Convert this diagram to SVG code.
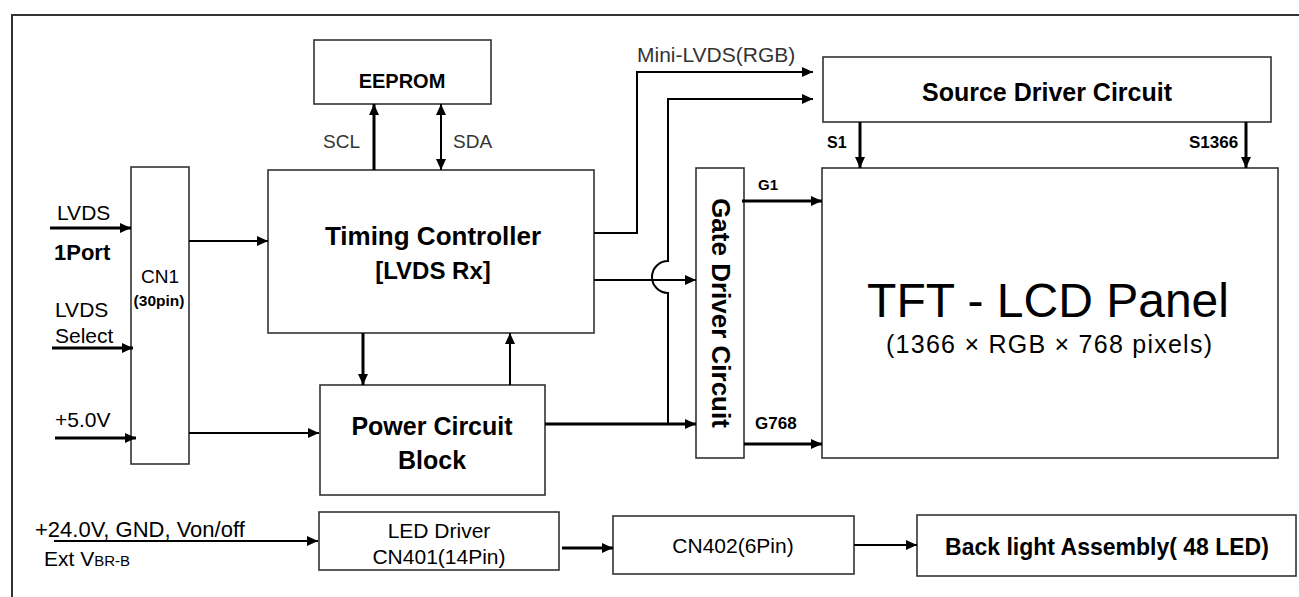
<svg xmlns="http://www.w3.org/2000/svg" width="1299" height="597" viewBox="0 0 1299 597">
<style>
text{font-family:"Liberation Sans",Arial,sans-serif;fill:#000}
.b{font-weight:bold}
.box{fill:#fff;stroke:#333;stroke-width:1.6}
.w{fill:none;stroke:#000;stroke-width:2}
.t{fill:none;stroke:#000;stroke-width:3}
.g{fill:#333}
</style>
<defs>
<marker id="ah" viewBox="0 0 11 10" refX="11" refY="5" markerWidth="11" markerHeight="10" markerUnits="userSpaceOnUse" orient="auto-start-reverse">
<path d="M0,0 L11,5 L0,10 z" fill="#000"/>
</marker>
</defs>
<rect width="1299" height="597" fill="#fff"/>
<g id="frame">
<path d="M12,597 V15 H1299" fill="none" stroke="#333" stroke-width="2"/>
</g>

<g id="eeprom">
<rect class="box" x="314" y="40" width="177" height="64"/>
<text class="b" x="402" y="88" font-size="20" text-anchor="middle">EEPROM</text>
</g>
<g id="timing">
<rect class="box" x="268" y="170" width="326" height="163" stroke-width="2"/>
<text class="b" x="433" y="245" font-size="26" text-anchor="middle">Timing Controller</text>
<text class="b" x="433" y="279" font-size="24" text-anchor="middle">[LVDS Rx]</text>
</g>
<g id="cn1">
<rect class="box" x="131" y="167" width="58" height="297"/>
<text x="160" y="283" font-size="19" text-anchor="middle">CN1</text>
<text class="b" x="159" y="306" font-size="15.5" text-anchor="middle">(30pin)</text>
</g>
<g id="power">
<rect class="box" x="320" y="385" width="225" height="110"/>
<text class="b" x="432" y="435" font-size="25" text-anchor="middle">Power Circuit</text>
<text class="b" x="432" y="469" font-size="25" text-anchor="middle">Block</text>
</g>
<g id="gate">
<rect class="box" x="696" y="168" width="48" height="290" stroke="#000" stroke-width="2.5"/>
<text class="b" font-size="26" text-anchor="middle" transform="translate(712,313) rotate(90)">Gate Driver Circuit</text>
</g>
<g id="source">
<rect class="box" x="823" y="57" width="448" height="65"/>
<text class="b" x="1047" y="101" font-size="25" text-anchor="middle">Source Driver Circuit</text>
</g>
<g id="panel">
<rect class="box" x="822" y="168" width="456" height="290"/>
<text x="1048" y="317" font-size="48" text-anchor="middle">TFT - LCD Panel</text>
<text x="1049" y="353" font-size="25" text-anchor="middle" textLength="326" lengthAdjust="spacing">(1366 × RGB × 768 pixels)</text>
</g>
<g id="led-driver">
<rect class="box" x="319" y="512" width="240" height="58"/>
<text x="439" y="538" font-size="21" text-anchor="middle">LED Driver</text>
<text x="439" y="564" font-size="21" text-anchor="middle">CN401(14Pin)</text>
</g>
<g id="cn402">
<rect class="box" x="613" y="516" width="241" height="58"/>
<text x="733" y="553" font-size="21" text-anchor="middle">CN402(6Pin)</text>
</g>
<g id="backlight">
<rect class="box" x="917" y="515" width="379" height="61"/>
<text class="b" x="1107" y="555" font-size="23" text-anchor="middle">Back light Assembly( 48 LED)</text>
</g>

<g id="labels">
<text x="57" y="220" font-size="21">LVDS</text>
<text class="b" x="54" y="260" font-size="22">1Port</text>
<text x="55" y="317" font-size="21">LVDS</text>
<text x="55" y="343" font-size="21">Select</text>
<text x="55" y="427" font-size="21">+5.0V</text>
<text class="g" x="323" y="148" font-size="19">SCL</text>
<text class="g" x="453" y="148" font-size="19">SDA</text>
<text class="g" x="637" y="62" font-size="21">Mini-LVDS(RGB)</text>
<text class="b" x="758" y="190" font-size="15">G1</text>
<text class="b" x="755" y="429" font-size="17">G768</text>
<text class="b" x="827" y="148" font-size="16">S1</text>
<text class="b" x="1189" y="148" font-size="17">S1366</text>
<text x="35" y="537" font-size="22">+24.0V, GND, Von/off</text>
<text x="44" y="566" font-size="21">Ext V<tspan font-size="15">BR-B</tspan></text>
</g>

<g id="connectors">
<line class="t" x1="50" y1="228" x2="131" y2="228" marker-end="url(#ah)"/>
<line class="t" x1="52" y1="348" x2="133" y2="348" marker-end="url(#ah)"/>
<line class="t" x1="55" y1="438" x2="136" y2="438" marker-end="url(#ah)"/>
<line class="w" x1="189" y1="241" x2="268" y2="241" marker-end="url(#ah)"/>
<line class="w" x1="189" y1="433" x2="319" y2="433" marker-end="url(#ah)"/>
<line class="t" x1="374" y1="170" x2="374" y2="104" marker-end="url(#ah)"/>
<line class="w" stroke-width="2.5" x1="441" y1="170" x2="441" y2="104" marker-start="url(#ah)" marker-end="url(#ah)"/>
<line class="t" x1="363" y1="333" x2="363" y2="385" marker-end="url(#ah)"/>
<line class="w" x1="510" y1="385" x2="510" y2="333" marker-end="url(#ah)"/>
<polyline class="w" stroke-width="2.5" points="594,233 637,233 637,72 813,72" marker-end="url(#ah)"/>
<path class="w" d="M668,424 V293 A16,16 0 0 1 668,261 V99 H813" marker-end="url(#ah)"/>
<line class="w" x1="594" y1="280" x2="696" y2="280" marker-end="url(#ah)"/>
<line class="t" x1="545" y1="424" x2="696" y2="424" marker-end="url(#ah)"/>
<line class="t" x1="742" y1="201" x2="822" y2="201" marker-end="url(#ah)"/>
<line class="t" x1="744" y1="444" x2="822" y2="444" marker-end="url(#ah)"/>
<line class="t" stroke-width="2.5" x1="860" y1="122" x2="860" y2="168" marker-end="url(#ah)"/>
<line class="t" stroke-width="2.5" x1="1246" y1="122" x2="1246" y2="168" marker-end="url(#ah)"/>
<line class="w" x1="54" y1="541" x2="318" y2="541" marker-end="url(#ah)"/>
<line class="t" x1="562" y1="548" x2="613" y2="548" marker-end="url(#ah)"/>
<line class="w" x1="854" y1="545" x2="917" y2="545" marker-end="url(#ah)"/>
</g>
</svg>
